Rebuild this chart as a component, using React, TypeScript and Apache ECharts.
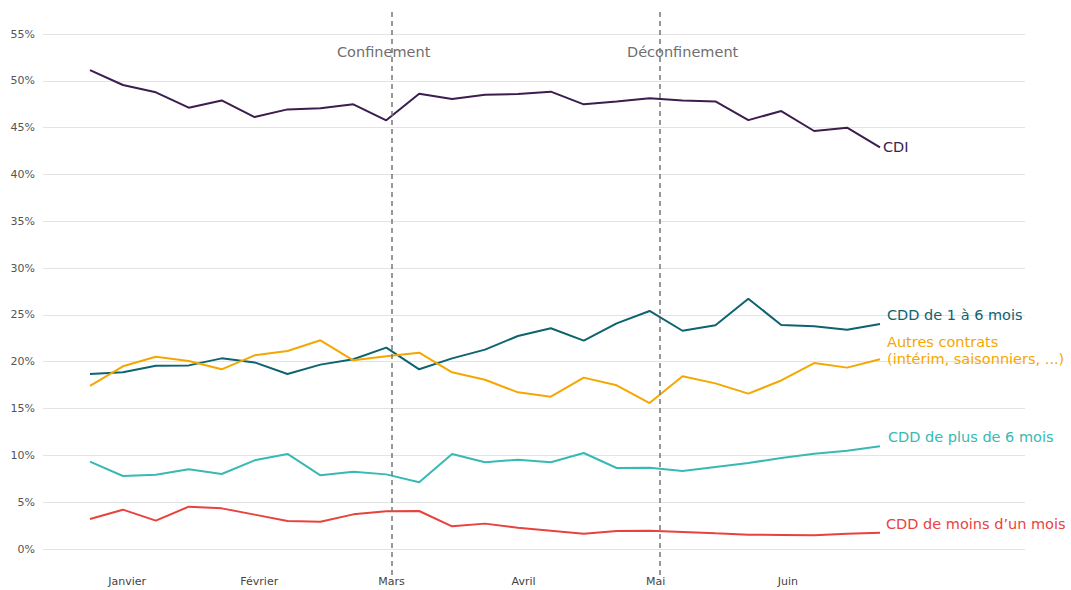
import React, { useEffect, useRef } from "react";
import * as echarts from "echarts";

const weeks = [
  "S1", "S2", "S3", "S4", "S5", "S6", "S7", "S8", "S9", "S10", "S11", "S12", "S13",
  "S14", "S15", "S16", "S17", "S18", "S19", "S20", "S21", "S22", "S23", "S24", "S25",
];
const months = ["Janvier", "Février", "Mars", "Avril", "Mai", "Juin"];

const cdi = [51.15, 49.55, 48.77, 47.13, 47.9, 46.13, 46.95, 47.06, 47.49, 45.78, 48.62, 48.06, 48.52,
  48.59, 48.84, 47.49, 47.8, 48.13, 47.9, 47.8, 45.8, 46.77, 44.64, 44.99, 42.9];
const cdd1a6 = [18.69, 18.87, 19.58, 19.61, 20.36, 19.93, 18.69, 19.69, 20.26, 21.5, 19.19, 20.36, 21.29,
  22.75, 23.57, 22.25, 24.1, 25.42, 23.31, 23.89, 26.73, 23.92, 23.78, 23.42, 24.03];
const autres = [17.41, 19.51, 20.54, 20.08, 19.19, 20.68, 21.14, 22.29, 20.15, 20.58, 20.97, 18.87, 18.08,
  16.73, 16.27, 18.3, 17.48, 15.59, 18.44, 17.69, 16.59, 18.0, 19.86, 19.37, 20.26];
const cddPlus6 = [9.33, 7.8, 7.94, 8.51, 8.01, 9.47, 10.15, 7.87, 8.26, 7.97, 7.12, 10.15, 9.26,
  9.54, 9.26, 10.25, 8.65, 8.68, 8.33, 8.76, 9.18, 9.72, 10.18, 10.5, 10.97];
const cddMoins1 = [3.2, 4.2, 3.03, 4.52, 4.34, 3.67, 2.99, 2.92, 3.7, 4.02, 4.06, 2.42, 2.71,
  2.28, 1.96, 1.64, 1.92, 1.96, 1.82, 1.67, 1.53, 1.5, 1.46, 1.64, 1.74];

const events = [
  { name: "Confinement", week: 9.16 },
  { name: "Déconfinement", week: 17.3 },
];

const FONT = "DejaVu Sans";

export default function App() {
  const ref = useRef<HTMLDivElement>(null);

  useEffect(() => {
    if (!ref.current) return;
    const chart = echarts.init(ref.current, undefined, { renderer: "svg" });

    const mkSeries = (name: string, data: number[], color: string, label: string, lh: number, dist: number) => ({
      name,
      type: "line",
      xAxisIndex: 1,
      yAxisIndex: 1,
      data,
      symbol: "none",
      lineStyle: { color, width: 2 },
      itemStyle: { color },
      emphasis: { disabled: true },
      endLabel: {
        show: true,
        formatter: label,
        color,
        fontFamily: FONT,
        fontSize: 14.5,
        lineHeight: lh,
        distance: dist,
      },
    });

    chart.setOption({
      animation: false,
      backgroundColor: "#ffffff",
      grid: [
        { left: 43, right: 46, top: 34, bottom: 41 },
        { left: 90, right: 191, top: 34, bottom: 41 },
        { left: 61, right: 217, top: 34, bottom: 41 },
        { left: 90, right: 191, top: 10, bottom: 15 },
      ],
      xAxis: [
        { gridIndex: 0, type: "value", min: 0, max: 1, show: false },
        { gridIndex: 1, type: "category", data: weeks, boundaryGap: false, show: false },
        {
          gridIndex: 2,
          type: "category",
          data: months,
          boundaryGap: true,
          axisLine: { show: false },
          axisTick: { show: false },
          axisLabel: { color: "#444", fontFamily: FONT, fontSize: 11, margin: 27, interval: 0 },
        },
        { gridIndex: 3, type: "value", min: 0, max: weeks.length - 1, show: false },
      ],
      yAxis: [
        {
          gridIndex: 0,
          type: "value",
          min: 0,
          max: 55,
          interval: 5,
          axisLine: { show: false },
          axisTick: { show: false },
          axisLabel: { formatter: "{value}%", color: "#555", fontFamily: FONT, fontSize: 11, margin: 8 },
          splitLine: { lineStyle: { color: "#e3e3e3", width: 1 } },
        },
        { gridIndex: 1, type: "value", min: 0, max: 55, show: false },
        { gridIndex: 2, type: "value", min: 0, max: 55, show: false },
        { gridIndex: 3, type: "value", min: 0, max: 1, show: false },
      ],
      graphic: [
        {
          type: "text",
          left: 337,
          top: 44,
          style: { text: events[0].name, fill: "#6f6f6f", font: `14.5px "${FONT}"` },
        },
        {
          type: "text",
          left: 627,
          top: 44,
          style: { text: events[1].name, fill: "#6f6f6f", font: `14.5px "${FONT}"` },
        },
      ],
      series: [
        {
          type: "line",
          xAxisIndex: 3,
          yAxisIndex: 3,
          data: [],
          silent: true,
          markLine: {
            symbol: "none",
            silent: true,
            label: { show: false },
            lineStyle: { color: "#777", width: 1.5, type: [5, 4] },
            data: events.map((e) => ({ xAxis: e.week, name: e.name })),
          },
        },
        mkSeries("CDI", cdi, "#3b1d4e", "CDI", 17, 3),
        mkSeries("CDD de 1 à 6 mois", cdd1a6, "#0d6370", "CDD de 1 à 6 mois\n ", 18, 7),
        mkSeries("Autres contrats", autres, "#f5a700", "Autres contrats\n(intérim, saisonniers, ...)\n ", 17, 7),
        mkSeries("CDD de plus de 6 mois", cddPlus6, "#38b9b4", "CDD de plus de 6 mois\n ", 18, 8),
        mkSeries("CDD de moins d'un mois", cddMoins1, "#e8423d", "CDD de moins d’un mois\n ", 18, 6),
      ],
    });

    return () => chart.dispose();
  }, []);

  return (
    <div
      ref={ref}
      style={{ position: "fixed", left: 0, top: 0, width: 1071, height: 590, background: "#fff" }}
    />
  );
}
